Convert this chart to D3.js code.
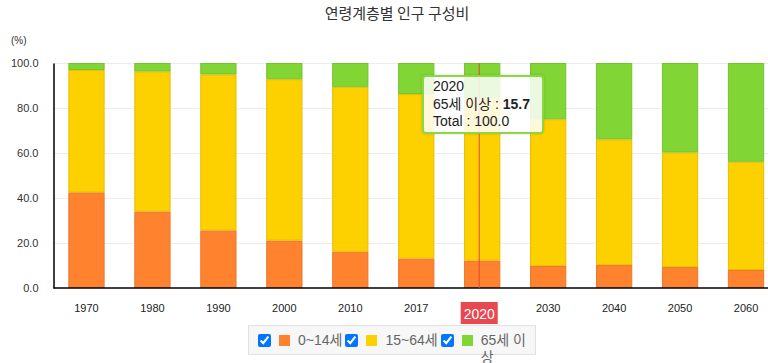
<!DOCTYPE html>
<html>
<head>
<meta charset="utf-8">
<script src="https://cdn.jsdelivr.net/npm/d3@7"></script>
<style>
  body { margin: 0; overflow: hidden; background: #fff; font-family: "Liberation Sans", Arial, "Noto Sans CJK KR", sans-serif; }
  #chart { position: relative; width: 768px; height: 363px; overflow: hidden; }
  .tooltip {
    position: absolute; box-sizing: border-box;
    background: rgba(255,255,255,0.85); border: 2px solid #8ad644; border-radius: 4px;
    padding: 1px 9px; font-size: 14px; line-height: 17.5px; color: #222;
    box-shadow: 0 0 3px rgba(0,0,0,0.15);
  }
  .legend {
    position: absolute; box-sizing: border-box; display: flex; align-items: flex-start;
    background: #f7f7f7; border: 1px solid #e2e2e2; padding: 6px 0 0 9px;
    font-size: 14px; line-height: 17px; color: #666; overflow: visible;
  }
  .legend .item { display: flex; align-items: flex-start; flex-shrink: 0; }
  .legend .item.last { flex-shrink: 1; min-width: 0; }
  .legend input { width: 13px; height: 13px; margin: 2px 8px 0 0; flex-shrink: 0; }
  .legend .sw { width: 11px; height: 11px; margin: 3px 8px 0 0; flex-shrink: 0; }
  .legend .txt { margin-right: 3px; }
</style>
</head>
<body>
<div id="chart"></div>
<script>
const years = ["1970", "1980", "1990", "2000", "2010", "2017", "2020", "2030", "2040", "2050", "2060"];
const seriesNames = ["0~14세", "15~64세", "65세 이상"];
const age0to14 = [42.5, 34.0, 25.6, 21.1, 16.1, 13.1, 12.2, 9.8, 10.2, 9.3, 8.0];
const age15to64 = [54.4, 62.2, 69.3, 71.7, 73.3, 73.1, 72.1, 65.2, 55.9, 50.9, 48.1];
const age65plus = [3.1, 3.8, 5.1, 7.2, 10.6, 13.8, 15.7, 25.0, 33.9, 39.8, 43.9];
const yTicks = [0, 20, 40, 60, 80, 100];
const colors = ["#ff832f", "#fdd000", "#81d535"];
const focusYear = "2020";

const W = 792, H = 363;
const margin = {top: 63, right: 13, bottom: 75, left: 53.5};

const chart = d3.select("#chart");
const svg = chart.append("svg")
  .attr("width", W)
  .attr("height", H)
  .style("position", "absolute")
  .style("left", 0)
  .style("top", 0);

const x = d3.scaleBand()
  .domain(years)
  .range([margin.left, W - margin.right])
  .paddingInner(0.45)
  .paddingOuter(0.225);

const y = d3.scaleLinear()
  .domain([0, 100])
  .range([H - margin.bottom, margin.top]);

// title + unit
svg.append("text")
  .attr("x", W / 2 + 1)
  .attr("y", 18.5)
  .attr("text-anchor", "middle")
  .style("font-family", "'Noto Sans CJK KR', sans-serif")
  .style("font-size", "15px")
  .style("fill", "#333")
  .text("연령계층별 인구 구성비");

svg.append("text")
  .attr("x", 11)
  .attr("y", 44)
  .style("font-size", "10px")
  .style("fill", "#333")
  .text("(%)");

// grid
svg.append("g")
  .selectAll("line")
  .data(yTicks.filter(d => d > 0))
  .enter().append("line")
  .attr("x1", margin.left)
  .attr("x2", W)
  .attr("y1", d => y(d) + 0.5)
  .attr("y2", d => y(d) + 0.5)
  .attr("stroke", "#ececec");

// stacked bars
const rows = years.map((yr, i) => ({year: yr, s0: age0to14[i], s1: age15to64[i], s2: age65plus[i]}));
const stack = d3.stack().keys(["s0", "s1", "s2"]);
const layers = stack(rows);

svg.append("g")
  .selectAll("g")
  .data(layers)
  .enter().append("g")
  .attr("fill", (d, i) => colors[i])
  .attr("stroke", (d, i) => d3.color(colors[i]).darker(0.25))
  .selectAll("rect")
  .data(d => d)
  .enter().append("rect")
  .attr("x", d => x(d.data.year) + 0.5)
  .attr("width", x.bandwidth() - 1)
  .attr("y", d => y(d[1]) + 0.5)
  .attr("height", d => Math.max(0, y(d[0]) - y(d[1]) - 1));

// axes
const yAxis = svg.append("g")
  .attr("transform", `translate(${margin.left},0)`)
  .call(d3.axisLeft(y).tickValues(yTicks).tickSize(0).tickPadding(15).tickFormat(d3.format(".1f")));
yAxis.select(".domain").attr("stroke", "#000").attr("stroke-width", 1.5);
yAxis.selectAll("text").style("font-size", "11px").style("fill", "#333")
  .style("font-family", "'Liberation Sans', Arial, sans-serif");

const xAxis = svg.append("g")
  .attr("transform", `translate(0,${y(0)})`)
  .call(d3.axisBottom(x).tickSize(0).tickPadding(16));
xAxis.select(".domain").attr("d", `M${margin.left},0H${W}`).attr("stroke", "#000").attr("stroke-width", 1.5);
xAxis.selectAll("text").style("font-size", "11px").style("fill", "#222")
  .style("font-family", "'Liberation Sans', Arial, sans-serif")
  .style("display", d => d === focusYear ? "none" : null);

// crosshair on the hovered year
const cx = x(focusYear) + x.bandwidth() / 2 - 3;
svg.append("line")
  .attr("x1", cx).attr("x2", cx)
  .attr("y1", y(100)).attr("y2", y(0))
  .attr("stroke", "#e0483c")
  .attr("stroke-width", 1);

const flag = svg.append("g").attr("transform", `translate(${cx},${y(0) + 14})`);
flag.append("rect")
  .attr("x", -18.5).attr("y", 0)
  .attr("width", 37).attr("height", 22)
  .attr("fill", "#e8484f");
flag.append("text")
  .attr("y", 16.5)
  .attr("text-anchor", "middle")
  .style("font-size", "14px")
  .style("fill", "#fff")
  .style("font-family", "'Liberation Sans', Arial, sans-serif")
  .text(focusYear);

// tooltip
const fi = years.indexOf(focusYear);
const tip = chart.append("div")
  .attr("class", "tooltip")
  .style("left", "422px")
  .style("top", "75px")
  .style("width", "122px");
tip.append("div").text(focusYear);
const l2 = tip.append("div");
l2.append("span").text(seriesNames[2] + " : ");
l2.append("b").text(d3.format(".1f")(age65plus[fi]));
tip.append("div").text("Total : " + d3.format(".1f")(age0to14[fi] + age15to64[fi] + age65plus[fi]));

// legend
const legend = chart.append("div")
  .attr("class", "legend")
  .style("left", "248px")
  .style("top", "325px")
  .style("width", "288px")
  .style("height", "30px");

seriesNames.forEach((name, i) => {
  const item = legend.append("div").attr("class", "item" + (i === seriesNames.length - 1 ? " last" : ""));
  item.append("input").attr("type", "checkbox").property("checked", true);
  item.append("span").attr("class", "sw").style("background", colors[i]);
  item.append("span").attr("class", "txt").text(name);
});
</script>
</body>
</html>
